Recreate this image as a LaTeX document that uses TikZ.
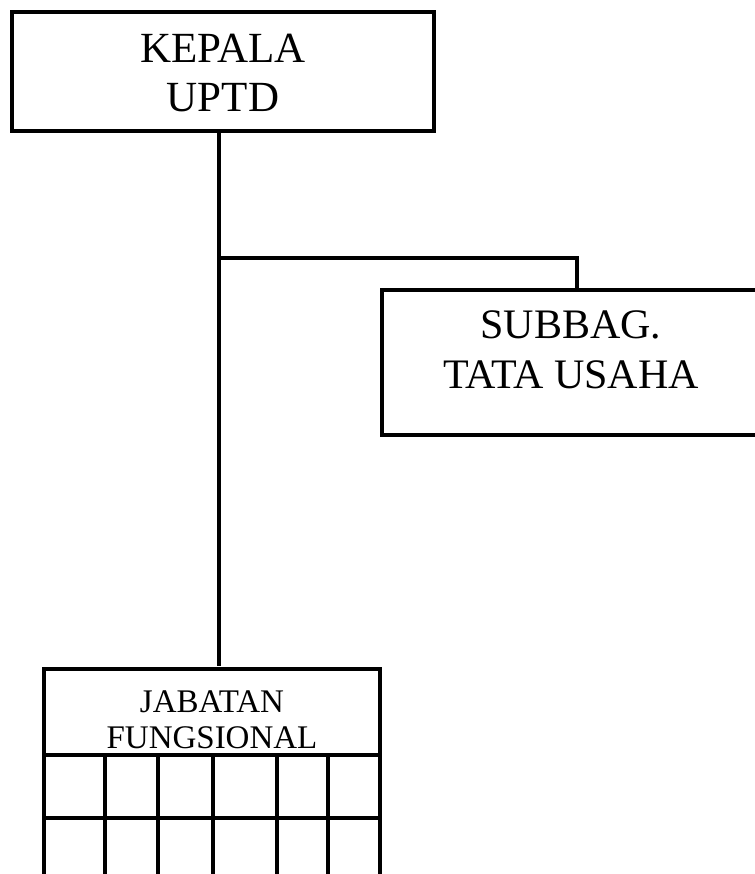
\documentclass[tikz,border=0pt]{standalone}
\usepackage{fontspec}
\setmainfont{Liberation Serif}
\begin{document}
\begin{tikzpicture}[x=1pt,y=-1pt,
  box/.style={draw, line width=4pt, rectangle, inner sep=0pt, outer sep=0pt},
  conn/.style={line width=4pt},
  grid/.style={line width=3.8pt},
  bigtxt/.style={font=\fontsize{43}{49}\selectfont, anchor=base, inner sep=0pt},
  midtxt/.style={font=\fontsize{42}{49}\selectfont, anchor=base, inner sep=0pt},
  smalltxt/.style={font=\fontsize{33}{36}\selectfont, anchor=base, inner sep=0pt}]
\useasboundingbox[fill=white] (0,0) rectangle (754,874);

% boxes
\node[box, minimum width=422pt, minimum height=119pt] (kepala) at (223,71.5) {};
\node[box, minimum width=381pt, minimum height=145pt] (subbag) at (572.5,362.5) {};
\node[box, minimum width=336pt, minimum height=240pt] (jab) at (212,789) {};

% texts
\node[bigtxt] (k1) at (223,63) {KEPALA};
\node[bigtxt] (k2) at (223,112) {UPTD};
\node[midtxt] (s1) at (571,338) {SUBBAG.};
\node[midtxt] (s2) at (571,388) {TATA USAHA};
\node[smalltxt] (j1) at (212,712) {JABATAN};
\node[smalltxt] (j2) at (212,748) {FUNGSIONAL};

% connectors
\coordinate (jx) at (219,0);
\coordinate (sx) at (577,0);
\coordinate (br) at (219,258);
\draw[conn] (kepala.south -| jx) -- ([yshift=3pt]jab.north -| jx);
\draw[conn] (br) -| (subbag.north -| sx);

% jabatan grid
\draw[grid] (jab.west |- 0,755) -- (jab.east |- 0,755);
\draw[grid] (jab.west |- 0,818) -- (jab.east |- 0,818);
\foreach \cx in {105,158,213,277,328}{
  \draw[grid] (\cx,755) -- (\cx,880);
}
\end{tikzpicture}
\end{document}
